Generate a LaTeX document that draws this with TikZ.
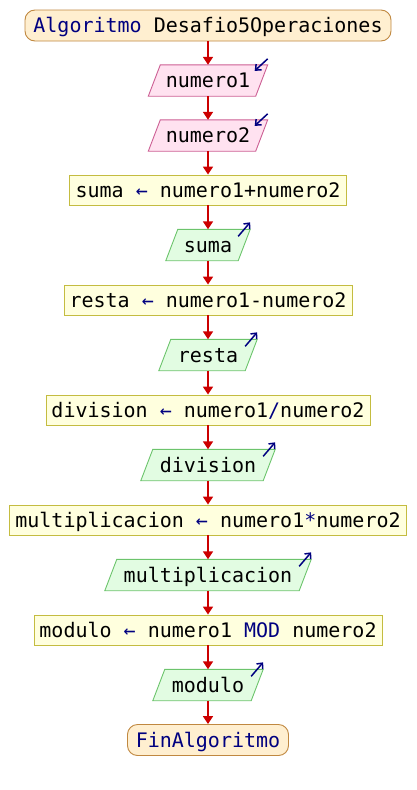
\documentclass[tikz,border=0pt]{standalone}
\usepackage{fontspec}
\setmonofont{DejaVu Sans Mono}
\usetikzlibrary{arrows.meta,backgrounds}
\definecolor{termfill}{HTML}{FFEFD0}
\definecolor{termdraw}{HTML}{C08840}
\definecolor{infill}{HTML}{FFE2F0}
\definecolor{indraw}{HTML}{CC5F94}
\definecolor{asgfill}{HTML}{FFFFDE}
\definecolor{asgdraw}{HTML}{C4BC40}
\definecolor{outfill}{HTML}{E2FCE2}
\definecolor{outdraw}{HTML}{6CC46C}
\definecolor{flowred}{HTML}{CC0000}
\definecolor{kw}{HTML}{000080}
\newcommand\kwd[1]{\textcolor{kw}{#1}}
\newcommand\drawpara[3]{%
  \filldraw[fill=#2,draw=#3,line width=0.9pt]
    ([xshift=6pt]#1.north west) -- ([xshift=6pt]#1.north east) --
    ([xshift=-6pt]#1.south east) -- ([xshift=-6pt]#1.south west) -- cycle;}
\tikzset{
  base/.style={font=\ttfamily\fontsize{20}{24}\selectfont, inner sep=0pt,
    text height=14.6pt, text depth=0pt, minimum height=30pt},
  term/.style={base, draw=termdraw, fill=termfill, rounded corners=10pt, line width=0.9pt, minimum height=31pt},
  assign/.style={base, draw=asgdraw, fill=asgfill, line width=0.9pt},
  iobox/.style={base, minimum height=31pt},
  flow/.style={draw=flowred, line width=1.6pt, -{Triangle[width=10pt,length=8pt]}},
  cornerarrow/.style={draw=kw, line width=1.5pt, -{Straight Barb[length=4.5pt,width=8pt]}},
}
\begin{document}
\begin{tikzpicture}[x=1pt,y=-1pt]
\useasboundingbox (0,0) rectangle (416,790);
\node[term, minimum width=366pt] (n0) at (208,25.5) {\kwd{Algoritmo} Desafio5Operaciones};
\node[iobox, minimum width=107pt] (n1) at (208,80.5) {numero1};
\node[iobox, minimum width=107pt] (n2) at (208,135.5) {numero2};
\node[assign, minimum width=277pt] (n3) at (208,190) {suma \kwd{←} numero1+numero2};
\node[iobox, minimum width=72pt] (n4) at (208,245) {suma};
\node[assign, minimum width=288pt] (n5) at (208,300) {resta \kwd{←} numero1-numero2};
\node[iobox, minimum width=86pt] (n6) at (208,355) {resta};
\node[assign, minimum width=324pt] (n7) at (208,410) {division \kwd{←} numero1\kwd{/}numero2};
\node[iobox, minimum width=122pt] (n8) at (208,465) {division};
\node[assign, minimum width=397pt] (n9) at (208,520) {multiplicacion \kwd{←} numero1\kwd{*}numero2};
\node[iobox, minimum width=194pt] (n10) at (208,575) {multiplicacion};
\node[assign, minimum width=348pt] (n11) at (208,630) {modulo \kwd{←} numero1 \kwd{MOD} numero2};
\node[iobox, minimum width=98pt] (n12) at (208,685) {modulo};
\node[term, minimum width=161pt] (n13) at (208,740) {\kwd{FinAlgoritmo}};
\begin{pgfonlayer}{background}
\drawpara{n1}{infill}{indraw}
\drawpara{n2}{infill}{indraw}
\drawpara{n4}{outfill}{outdraw}
\drawpara{n6}{outfill}{outdraw}
\drawpara{n8}{outfill}{outdraw}
\drawpara{n10}{outfill}{outdraw}
\drawpara{n12}{outfill}{outdraw}
\end{pgfonlayer}
\foreach \a/\b in {n0/n1,n1/n2,n2/n3,n3/n4,n4/n5,n5/n6,n6/n7,n7/n8,n8/n9,n9/n10,n10/n11,n11/n12,n12/n13}
  \draw[flow] (\a.south) -- (\b.north);
\foreach \n in {n1,n2}
  \draw[cornerarrow] ([xshift=6pt,yshift=6pt]\n.north east) -- ([xshift=-7pt,yshift=-6pt]\n.north east);
\foreach \n in {n4,n6,n8,n10,n12}
  \draw[cornerarrow] ([xshift=-6pt,yshift=-7pt]\n.north east) -- ([xshift=6pt,yshift=7pt]\n.north east);
\end{tikzpicture}
\end{document}
